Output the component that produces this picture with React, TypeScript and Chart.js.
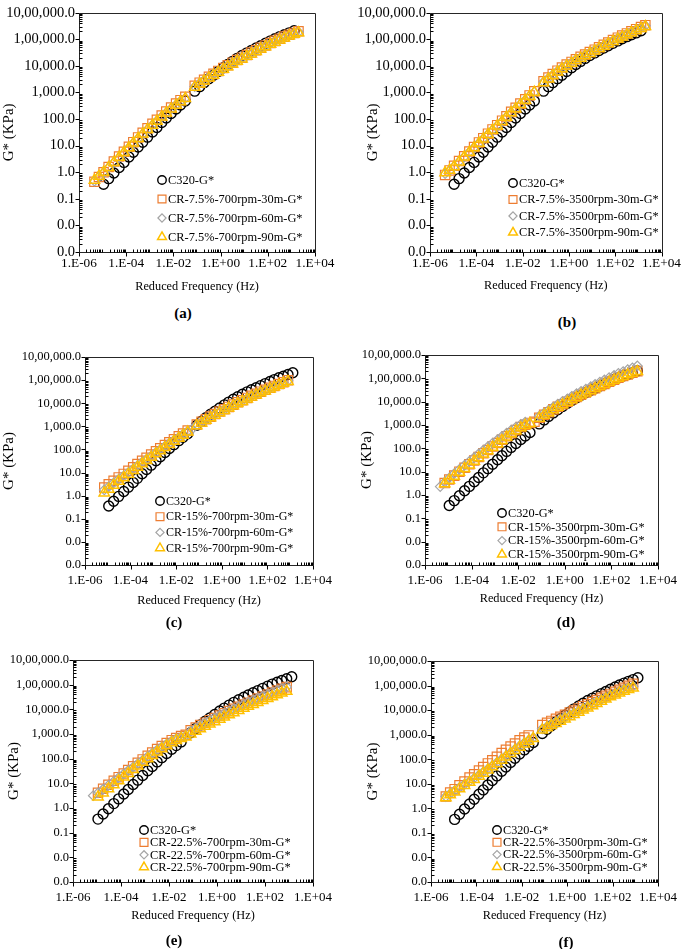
import React, { useEffect, useRef } from 'react';
import { Chart, registerables } from 'chart.js';

Chart.register(...registerables);

// ---------- data (reduced frequency in Hz, |G*| in kPa) ----------
const FREQ_LOW_HZ = [4.5e-6, 7e-6, 1.1e-5, 1.8e-5, 3e-5, 5e-5, 8e-5, 1.3e-4, 2e-4, 3.2e-4, 5e-4, 8e-4, 1.3e-3, 2e-3, 3.2e-3, 5e-3, 8e-3, 1.3e-2, 2e-2, 3.2e-2, 5e-2];
const FREQ_HIGH_HZ = [0.08, 0.13, 0.2, 0.32, 0.5, 0.8, 1.3, 2, 3.2, 5, 8, 13, 20, 32, 50, 80, 130, 200, 320, 500, 800, 1300, 2000];

const C320_LOW = [null, null, 0.355, 0.575, 0.933, 1.51, 2.34, 3.72, 5.62, 8.91, 13.5, 20.9, 32.4, 47.9, 74.1, 110, 162, 240, 339, 479, null];
const C320_HIGH = [1120, 1660, 2340, 3310, 4470, 6170, 8510, 11200, 14800, 19100, 24500, 30900, 38000, 46800, 57500, 70800, 87100, 105000, 126000, 148000, 174000, 209000, null];

const A_SQ_LOW = [0.437, 0.661, 1.0, 1.58, 2.51, 3.89, 5.89, 9.12, 13.5, 20.4, 30.2, 44.7, 66.1, 93.3, 135, 191, 269, 380, 513, 692, null];
const A_DI_LOW = [0.468, 0.676, 0.955, 1.48, 2.29, 3.55, 5.37, 8.32, 12.3, 18.6, 27.5, 40.7, 60.3, 85.1, 123, 174, 245, 347, 468, 617, null];
const A_TR_LOW = [0.501, 0.708, 1.0, 1.51, 2.34, 3.63, 5.50, 8.32, 12.6, 18.6, 27.5, 40.7, 58.9, 83.2, 120, 170, 240, 331, 447, 589, null];
const A_SQ_HIGH = [1780, 2340, 3020, 3890, 5010, 6460, 8320, 10500, 13200, 16600, 20400, 25700, 31600, 38900, 47900, 58900, 72400, 87100, 105000, 126000, 148000, 174000, 200000];
const A_DI_HIGH = [1660, 2240, 2880, 3720, 4790, 6170, 7940, 10000, 12600, 15800, 19500, 24500, 30200, 37200, 45700, 56200, 69200, 83200, 100000, 117000, 138000, 162000, 186000];
const A_TR_HIGH = [1580, 2090, 2690, 3470, 4470, 5750, 7410, 9330, 11700, 14800, 18200, 22900, 28200, 34700, 42700, 52500, 64600, 77600, 93300, 112000, 132000, 155000, 178000];

const B_SQ_LOW = [0.794, 1.17, 1.74, 2.63, 3.98, 6.03, 8.91, 13.2, 19.1, 28.2, 40.7, 58.9, 87.1, 126, 186, 263, 380, 550, 776, 1100, null];
const B_DI_LOW = [0.891, 1.15, 1.66, 2.51, 3.80, 5.75, 8.51, 12.6, 18.2, 26.9, 38.9, 56.2, 83.2, 120, 178, 251, 363, 525, 741, 1020, null];
const B_TR_LOW = [0.955, 1.20, 1.62, 2.45, 3.72, 5.62, 8.32, 12.3, 17.8, 26.3, 38.0, 55.0, 81.3, 117, 174, 245, 355, 513, 724, 1020, null];
const B_SQ_HIGH = [2630, 3630, 4900, 6610, 8710, 11200, 14100, 17800, 21900, 26900, 33100, 40700, 50100, 61700, 75900, 93300, 115000, 138000, 166000, 200000, 240000, 288000, 339000];
const B_DI_HIGH = [2510, 3470, 4680, 6310, 8320, 10700, 13500, 17000, 20900, 25700, 31600, 38900, 47900, 58900, 72400, 89100, 110000, 132000, 158000, 191000, 229000, 275000, 324000];
const B_TR_HIGH = [2340, 3240, 4370, 5890, 7760, 10000, 12600, 15800, 19500, 24000, 29500, 36300, 44700, 55000, 67600, 83200, 102000, 123000, 148000, 178000, 214000, 257000, 302000];

const C_SQ_LOW = [null, 2.24, 3.09, 4.37, 6.17, 8.71, 12.0, 17.0, 23.4, 32.4, 43.7, 60.3, 83.2, 112, 155, 204, 275, 372, 490, 661, null];
const C_DI_LOW = [null, 1.78, 2.45, 3.55, 5.13, 7.24, 10.2, 14.5, 20.0, 28.2, 38.0, 52.5, 74.1, 100, 138, 186, 251, 339, 457, 617, 759];
const C_TR_LOW = [null, 1.32, 1.91, 2.82, 4.17, 6.03, 8.51, 12.3, 17.0, 24.0, 33.1, 45.7, 64.6, 87.1, 120, 162, 224, 302, 407, 562, null];
const C_SQ_HIGH = [1200, 1580, 2040, 2630, 3390, 4370, 5500, 6920, 8710, 11000, 13500, 17000, 20900, 25700, 31600, 38000, 46800, 56200, 67600, 81300, 97700, null, null];
const C_DI_HIGH = [1150, 1510, 1950, 2510, 3240, 4170, 5250, 6610, 8320, 10500, 12900, 16200, 20000, 24500, 30200, 36300, 44700, 53700, 64600, 77600, 93300, null, null];
const C_TR_HIGH = [1070, 1410, 1820, 2340, 3020, 3890, 4900, 6170, 7760, 9770, 12000, 15100, 18600, 22900, 28200, 33900, 41700, 50100, 60300, 72400, 87100, null, null];

const D_SQ_LOW = [null, 3.24, 4.57, 6.76, 10.0, 14.8, 20.9, 30.2, 42.7, 61.7, 85.1, 120, 170, 234, 331, 447, 603, 813, 1020, 1230, 1380];
const D_DI_LOW = [2.29, 3.55, 5.37, 8.32, 12.6, 19.1, 27.5, 40.7, 57.5, 83.2, 117, 166, 234, 324, 447, 603, 813, 1070, 1320, null, null];
const D_TR_LOW = [null, 3.02, 4.27, 6.31, 9.33, 13.8, 19.5, 28.2, 39.8, 57.5, 79.4, 112, 158, 219, 309, 417, 562, 759, 955, 1150, null];
const D_SQ_HIGH = [2040, 2750, 3550, 4680, 6030, 7760, 10000, 12600, 15800, 20000, 24500, 30900, 38000, 46800, 57500, 70800, 87100, 105000, 126000, 148000, 174000, 204000, null];
const D_DI_HIGH = [2400, 3310, 4370, 5890, 7760, 10200, 13200, 17000, 21900, 27500, 34700, 43700, 55000, 69200, 85100, 107000, 132000, 162000, 195000, 234000, 282000, 339000, null];
const D_TR_HIGH = [1950, 2630, 3390, 4470, 5750, 7410, 9550, 12000, 15100, 19100, 23400, 29500, 36300, 44700, 55000, 67600, 83200, 100000, 120000, 141000, 166000, 195000, null];

const E_SQ_LOW = [null, null, 4.17, 6.03, 8.71, 12.6, 17.8, 25.1, 34.7, 49.0, 67.6, 93.3, 132, 178, 245, 324, 427, 562, 692, 832, 933];
const E_DI_LOW = [null, 3.16, 4.07, 5.75, 8.32, 12.0, 17.0, 24.0, 33.1, 45.7, 63.1, 87.1, 123, 166, 229, 302, 398, 525, 646, 759, 851];
const E_TR_LOW = [null, null, 2.82, 4.07, 6.03, 8.71, 12.6, 18.2, 25.1, 36.3, 50.1, 70.8, 100, 135, 186, 251, 331, 437, 550, 661, 759];
const E_SQ_HIGH = [1410, 1820, 2290, 2880, 3630, 4470, 5620, 6920, 8510, 10500, 12600, 15500, 18600, 22900, 27500, 33100, 39800, 47900, 57500, 67600, 79400, null, null];
const E_DI_HIGH = [1320, 1740, 2240, 2820, 3550, 4470, 5620, 6920, 8510, 10500, 12900, 15800, 19100, 23400, 28200, 33900, 40700, 49000, 58900, 69200, 81300, null, null];
const E_TR_HIGH = [1000, 1290, 1620, 2040, 2570, 3160, 3980, 4900, 6030, 7240, 8910, 11000, 13200, 15800, 19100, 22900, 27500, 32400, 38900, 45700, 53700, null, null];

const F_SQ_LOW = [3.02, 4.37, 6.03, 8.71, 12.3, 17.8, 24.5, 34.7, 47.9, 67.6, 91.2, 126, 178, 240, 331, 437, 589, 759, 933, null, null];
const F_DI_LOW = [3.02, 3.98, 5.25, 7.08, 9.55, 12.9, 17.0, 22.9, 30.2, 40.7, 55.0, 74.1, 102, 138, 191, 257, 347, 468, 603, 759, null];
const F_TR_LOW = [2.69, 3.55, 4.68, 6.31, 8.51, 11.5, 15.1, 20.4, 26.9, 36.3, 49.0, 66.1, 91.2, 123, 170, 229, 309, 417, 537, 692, null];
const F_SQ_HIGH = [2450, 3020, 3630, 4470, 5370, 6460, 7940, 9550, 11700, 14500, 17400, 21400, 25700, 31600, 38000, 45700, 56200, 67600, 81300, 97700, 117000, null, null];
const F_DI_HIGH = [1740, 2190, 2690, 3390, 4170, 5130, 6310, 7760, 9550, 11700, 14500, 17800, 21900, 26900, 33100, 40700, 49000, 58900, 69200, 81300, 93300, null, null];
const F_TR_HIGH = [1550, 1910, 2340, 2880, 3550, 4370, 5370, 6610, 8130, 10000, 12300, 15100, 18600, 22900, 28200, 34700, 41700, 50100, 58900, 69200, 79400, null, null];

const LABELS_A = ['C320-G*', 'CR-7.5%-700rpm-30m-G*', 'CR-7.5%-700rpm-60m-G*', 'CR-7.5%-700rpm-90m-G*'];
const LABELS_B = ['C320-G*', 'CR-7.5%-3500rpm-30m-G*', 'CR-7.5%-3500rpm-60m-G*', 'CR-7.5%-3500rpm-90m-G*'];
const LABELS_C = ['C320-G*', 'CR-15%-700rpm-30m-G*', 'CR-15%-700rpm-60m-G*', 'CR-15%-700rpm-90m-G*'];
const LABELS_D = ['C320-G*', 'CR-15%-3500rpm-30m-G*', 'CR-15%-3500rpm-60m-G*', 'CR-15%-3500rpm-90m-G*'];
const LABELS_E = ['C320-G*', 'CR-22.5%-700rpm-30m-G*', 'CR-22.5%-700rpm-60m-G*', 'CR-22.5%-700rpm-90m-G*'];
const LABELS_F = ['C320-G*', 'CR-22.5%-3500rpm-30m-G*', 'CR-22.5%-3500rpm-60m-G*', 'CR-22.5%-3500rpm-90m-G*'];

const X_TICKS = [1e-6, 1e-4, 1e-2, 1, 1e2, 1e4];
const Y_TICKS = [1e-3, 1e-2, 0.1, 1, 10, 100, 1e3, 1e4, 1e5, 1e6];
const X_TITLE = 'Reduced Frequency (Hz)';
const Y_TITLE = 'G* (KPa)';

// ---------- styling ----------
const FONT = '"Liberation Serif", "Times New Roman", "DejaVu Serif", serif';

const MARKERS = [
  { style: 'circle', color: '#000000', radius: 5, width: 1.4 },
  { style: 'rect', color: '#ED7D31', radius: 6.6, width: 1.2 },
  { style: 'rectRot', color: '#A5A5A5', radius: 4.8, width: 1.2 },
  { style: 'triangle', color: '#FFC000', radius: 6, width: 1.5 },
];

const PANELS = [
  { tag: '(a)', left: 0, top: 0, w: 340, h: 300, yW: 79, xH: 48, padTop: 7, padRight: 25, yTitlePad: 0, xTitlePad: 6, xTickPad: 4, xTickSize: 13.3, yTickSize: 14.5, yTitleSize: 15, xTitleSize: 12.3,
    legend: { x: 162, y: 180, dy: 19, size: 12.4 }, tagX: 183, tagY: 313, labels: LABELS_A,
    low: [C320_LOW, A_SQ_LOW, A_DI_LOW, A_TR_LOW], high: [C320_HIGH, A_SQ_HIGH, A_DI_HIGH, A_TR_HIGH] },
  { tag: '(b)', left: 345, top: 0, w: 340, h: 300, yW: 85, xH: 48, padTop: 7, padRight: 20, yTitlePad: 19, xTitlePad: 7, xTickPad: 4, xTickSize: 13.3, yTickSize: 14.5, yTitleSize: 15, xTitleSize: 12.3,
    legend: { x: 168, y: 183, dy: 16.5, size: 12.3 }, tagX: 567, tagY: 322, labels: LABELS_B,
    low: [C320_LOW, B_SQ_LOW, B_DI_LOW, B_TR_LOW], high: [C320_HIGH, B_SQ_HIGH, B_DI_HIGH, B_TR_HIGH] },
  { tag: '(c)', left: 0, top: 330, w: 340, h: 285, yW: 85, xH: 50, padTop: 27, padRight: 17, yTitlePad: 0, xTitlePad: 7, xTickPad: 8, xTickSize: 13, yTickSize: 12.5, yTitleSize: 15, xTitleSize: 12.3,
    legend: { x: 160, y: 171, dy: 15.7, size: 12 }, tagX: 174, tagY: 622, labels: LABELS_C,
    low: [C320_LOW, C_SQ_LOW, C_DI_LOW, C_TR_LOW], high: [C320_HIGH, C_SQ_HIGH, C_DI_HIGH, C_TR_HIGH] },
  { tag: '(d)', left: 345, top: 330, w: 340, h: 285, yW: 80, xH: 50, padTop: 25, padRight: 22, yTitlePad: 13, xTitlePad: 9, xTickPad: 8, xTickSize: 13, yTickSize: 12.5, yTitleSize: 15, xTitleSize: 12.3,
    legend: { x: 157, y: 183, dy: 13.8, size: 12.3 }, tagX: 566, tagY: 622, labels: LABELS_D,
    low: [C320_LOW, D_SQ_LOW, D_DI_LOW, D_TR_LOW], high: [C320_HIGH, D_SQ_HIGH, D_DI_HIGH, D_TR_HIGH] },
  { tag: '(e)', left: 0, top: 640, w: 340, h: 290, yW: 73, xH: 48, padTop: 20, padRight: 23, yTitlePad: 5, xTitlePad: 7, xTickPad: 8, xTickSize: 13, yTickSize: 12.5, yTitleSize: 15, xTitleSize: 12.3,
    legend: { x: 144, y: 190, dy: 12.4, size: 12.4 }, tagX: 174, tagY: 940, labels: LABELS_E,
    low: [C320_LOW, E_SQ_LOW, E_DI_LOW, E_TR_LOW], high: [C320_HIGH, E_SQ_HIGH, E_DI_HIGH, E_TR_HIGH] },
  { tag: '(f)', left: 345, top: 640, w: 340, h: 290, yW: 86, xH: 48, padTop: 21, padRight: 19, yTitlePad: 19, xTitlePad: 7, xTickPad: 8, xTickSize: 13, yTickSize: 12.5, yTitleSize: 15, xTitleSize: 12.3,
    legend: { x: 152, y: 190, dy: 12.3, size: 12.2 }, tagX: 566, tagY: 942, labels: LABELS_F,
    low: [C320_LOW, F_SQ_LOW, F_DI_LOW, F_TR_LOW], high: [C320_HIGH, F_SQ_HIGH, F_DI_HIGH, F_TR_HIGH] },
];

// ---------- helpers ----------
function buildPoints(low: (number | null)[], high: (number | null)[]) {
  const pts: { x: number; y: number }[] = [];
  low.forEach((g, i) => { if (g != null) pts.push({ x: FREQ_LOW_HZ[i], y: g }); });
  high.forEach((g, i) => { if (g != null) pts.push({ x: FREQ_HIGH_HZ[i], y: g }); });
  return pts;
}

function fmtIndian(v: number) {
  const s = v.toFixed(1);
  const [intPart, dec] = s.split('.');
  let last3 = intPart.slice(-3);
  let rest = intPart.slice(0, -3);
  if (rest) {
    rest = rest.replace(/\B(?=(\d{2})+(?!\d))/g, ',');
    last3 = rest + ',' + last3;
  }
  return last3 + '.' + dec;
}

function fmtSci(v: number) {
  const e = Math.round(Math.log10(v));
  return '1.E' + (e < 0 ? '-' : '+') + String(Math.abs(e)).padStart(2, '0');
}

function drawMarker(ctx: CanvasRenderingContext2D, style: string, x: number, y: number, r: number) {
  ctx.beginPath();
  if (style === 'circle') {
    ctx.arc(x, y, r, 0, Math.PI * 2);
  } else if (style === 'rect') {
    const s = r * Math.SQRT1_2;
    ctx.rect(x - s, y - s, 2 * s, 2 * s);
  } else if (style === 'rectRot') {
    ctx.moveTo(x - r, y); ctx.lineTo(x, y - r); ctx.lineTo(x + r, y); ctx.lineTo(x, y + r); ctx.closePath();
  } else {
    ctx.moveTo(x, y - r);
    ctx.lineTo(x + r * 0.866, y + r * 0.5);
    ctx.lineTo(x - r * 0.866, y + r * 0.5);
    ctx.closePath();
  }
  ctx.stroke();
}

const excelAxes = {
  id: 'excelAxes',
  afterDraw(chart: any) {
    const { ctx, chartArea: a } = chart;
    const xs = chart.scales.x;
    const ys = chart.scales.y;
    const L = Math.round(a.left) + 0.5;
    const R = Math.round(a.right) + 0.5;
    const T = Math.round(a.top) + 0.5;
    const B = Math.round(a.bottom) + 0.5;
    ctx.save();
    ctx.lineWidth = 1;
    ctx.strokeStyle = '#262626';
    ctx.beginPath();
    ctx.rect(L, T, R - L, B - T);
    ctx.stroke();
    ctx.strokeStyle = '#000';
    ctx.beginPath();
    for (let e = -6; e <= 4; e++) {
      for (let m = 1; m <= 9; m++) {
        const v = m * Math.pow(10, e);
        if (v > 1.0001e4) break;
        const px = Math.round(xs.getPixelForValue(v)) + 0.5;
        if (m === 1) {
          if (e % 2 === 0) { ctx.moveTo(px, B); ctx.lineTo(px, B + 4); }
        } else { ctx.moveTo(px, B); ctx.lineTo(px, B - 3); }
      }
    }
    for (let e = -3; e <= 6; e++) {
      for (let m = 1; m <= 9; m++) {
        const v = m * Math.pow(10, e);
        if (v > 1.0001e6) break;
        const py = Math.round(ys.getPixelForValue(v)) + 0.5;
        if (m === 1) { ctx.moveTo(L, py); ctx.lineTo(L - 4, py); }
        else { ctx.moveTo(L, py); ctx.lineTo(L + 3, py); }
      }
    }
    ctx.stroke();
    ctx.restore();
  },
};

const floatLegend = {
  id: 'floatLegend',
  afterDraw(chart: any) {
    const opts = chart.options.plugins.floatLegend;
    const { ctx } = chart;
    ctx.save();
    chart.data.datasets.forEach((ds: any, i: number) => {
      const y = opts.y + i * opts.dy;
      const m = MARKERS[i];
      ctx.strokeStyle = m.color;
      ctx.lineWidth = m.width;
      drawMarker(ctx, m.style, opts.x, y, m.radius * 0.85);
      ctx.fillStyle = '#000';
      ctx.font = `${opts.size}px ${FONT}`;
      ctx.textBaseline = 'middle';
      ctx.textAlign = 'left';
      ctx.fillText(ds.label, opts.x + 6, y + 0.5);
    });
    ctx.restore();
  },
};

function Panel({ cfg }: { cfg: any }) {
  const ref = useRef<HTMLCanvasElement>(null);
  useEffect(() => {
    let chart: Chart | null = null;
    let cancelled = false;
    const build = () => {
      if (cancelled || !ref.current) return;
      const datasets = cfg.labels.map((label: string, i: number) => ({
        label,
        data: buildPoints(cfg.low[i], cfg.high[i]),
        showLine: false,
        pointStyle: MARKERS[i].style,
        pointRadius: MARKERS[i].radius,
        pointBorderColor: MARKERS[i].color,
        pointBackgroundColor: 'rgba(0,0,0,0)',
        pointBorderWidth: MARKERS[i].width,
        order: 3 - i,
      }));
      chart = new Chart(ref.current, {
        type: 'scatter',
        data: { datasets },
        options: {
          responsive: false,
          animation: false,
          devicePixelRatio: 1,
          layout: { padding: { left: 0, top: cfg.padTop, right: cfg.padRight, bottom: 0 } },
          plugins: {
            legend: { display: false },
            tooltip: { enabled: false },
            floatLegend: cfg.legend,
          } as any,
          scales: {
            x: {
              type: 'logarithmic',
              position: 'bottom',
              min: 1e-6,
              max: 1e4,
              afterBuildTicks: (s: any) => { s.ticks = X_TICKS.map((v) => ({ value: v })); },
              afterFit: (s: any) => { s.height = cfg.xH; },
              ticks: {
                autoSkip: false, maxRotation: 0, minRotation: 0, padding: cfg.xTickPad, color: '#000',
                font: { family: FONT, size: cfg.xTickSize },
                callback: (v: any) => fmtSci(Number(v)),
              },
              grid: { display: false, drawTicks: false },
              border: { display: false },
              title: { display: true, text: X_TITLE, color: '#000', font: { family: FONT, size: cfg.xTitleSize }, padding: { top: 0, bottom: cfg.xTitlePad } },
            },
            y: {
              type: 'logarithmic',
              position: 'left',
              min: 1e-3,
              max: 1e6,
              afterBuildTicks: (s: any) => { s.ticks = Y_TICKS.map((v) => ({ value: v })); },
              afterFit: (s: any) => { s.width = cfg.yW; },
              ticks: {
                autoSkip: false, padding: 4, color: '#000',
                font: { family: FONT, size: cfg.yTickSize },
                callback: (v: any) => fmtIndian(Number(v)),
              },
              grid: { display: false, drawTicks: false },
              border: { display: false },
              title: { display: true, text: Y_TITLE, color: '#000', font: { family: FONT, size: cfg.yTitleSize }, padding: { top: cfg.yTitlePad, bottom: 0 } },
            },
          } as any,
        },
        plugins: [excelAxes, floatLegend],
      } as any);
    };
    const fontsApi = (document as any).fonts;
    if (fontsApi && fontsApi.load) {
      Promise.all([
        fontsApi.load('13px "Liberation Serif"'),
        fontsApi.load('13px "Times New Roman"'),
      ]).then(build, build);
    } else {
      build();
    }
    return () => {
      cancelled = true;
      if (chart) chart.destroy();
    };
  }, []);
  return (
    <canvas
      ref={ref}
      width={cfg.w}
      height={cfg.h}
      style={{ position: 'absolute', left: cfg.left, top: cfg.top, width: cfg.w, height: cfg.h }}
    />
  );
}

export default function App() {
  return (
    <div style={{ position: 'absolute', left: 0, top: 0, width: 685, height: 949, background: '#ffffff', overflow: 'hidden' }}>
      {PANELS.map((p) => (
        <React.Fragment key={p.tag}>
          <Panel cfg={p} />
          <div
            style={{
              position: 'absolute', left: p.tagX, top: p.tagY, transform: 'translate(-50%, -50%)',
              fontFamily: FONT, fontWeight: 'bold', fontSize: 15, color: '#000', whiteSpace: 'nowrap',
            }}
          >
            {p.tag}
          </div>
        </React.Fragment>
      ))}
    </div>
  );
}
